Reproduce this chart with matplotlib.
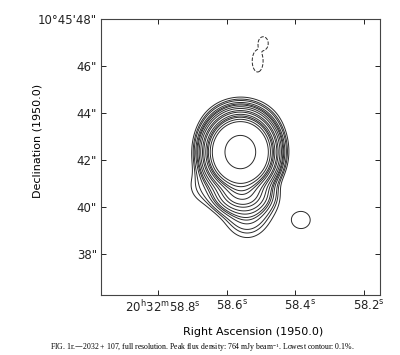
import numpy as np
import matplotlib
matplotlib.use("Agg")
import matplotlib.pyplot as plt
from matplotlib.transforms import ScaledTranslation

plt.rcParams["mathtext.default"] = "regular"

# Source model: RA in seconds (20h32m), Dec in arcsec (10d45')
comp_ra = [58.560, 58.556, 58.540, 58.670, 58.556, 58.383, 58.4934, 58.5095]
comp_dec = [42.34, 40.54, 40.14, 40.90, 43.60, 39.45, 46.957, 46.213]
comp_amp = [100.0, 2.5, 0.5, 0.15, 0.25, 0.13, -0.5, -0.5]   # percent of peak
comp_sx = [0.56, 0.60, 0.62, 0.50, 0.90, 0.54, 0.12, 0.13]     # arcsec
comp_sy = [0.60, 0.40, 0.80, 0.55, 0.60, 0.50, 0.16, 0.26]

# Contour levels (percent of peak, 764 mJy/beam)
levels = [-0.1, 0.1, 0.15, 0.2, 0.3, 0.4, 0.5, 0.7, 1, 1.5, 2, 3, 4, 5, 7, 10, 50]

ra_ticks = [58.8, 58.6, 58.4, 58.2]
ra_labels = [r"20$^{h}$32$^{m}$58.8$^{s}$", r"58.6$^{s}$", r"58.4$^{s}$", r"58.2$^{s}$"]
dec_ticks = [38, 40, 42, 44, 46, 48]
dec_labels = ['38"', '40"', '42"', '44"', '46"', "10\u00b045'48\""]

caption = ("FIG. 1r.\u20142032 + 107, full resolution. Peak flux density: 764 mJy beam$^{-1}$. "
           "Lowest contour: 0.1%.")

# Build the map
ra_lim = (58.966, 58.153)
dec_lim = (36.26, 48.0)
sec_to_arcsec = 15 * np.cos(np.radians(10.76))
ra = np.linspace(ra_lim[1], ra_lim[0], 600)
dec = np.linspace(dec_lim[0], dec_lim[1], 600)
RA, DEC = np.meshgrid(ra, dec)
flux = np.zeros_like(RA)
for r0, d0, a, sx, sy in zip(comp_ra, comp_dec, comp_amp, comp_sx, comp_sy):
    dx = (RA - r0) * sec_to_arcsec
    dy = DEC - d0
    flux += a * np.exp(-0.5 * ((dx / sx) ** 2 + (dy / sy) ** 2))

fig = plt.figure(figsize=(4.0, 3.55), dpi=100)
ax = fig.add_axes([0.2525, 0.169, 0.6975, 0.7775])

ax.contour(RA, DEC, flux, levels=levels, colors="#2a2a2a", linewidths=0.7)

ax.set_xlim(ra_lim)
ax.set_ylim(dec_lim)
ax.set_xticks(ra_ticks)
ax.set_xticklabels(ra_labels, fontsize=8.5)
ax.set_yticks(dec_ticks)
ax.set_yticklabels(dec_labels, fontsize=8.5)
ax.tick_params(direction="in", length=3.5, width=0.7, top=True, right=True, pad=3,
               colors="#222222")
for spine in ax.spines.values():
    spine.set_linewidth(0.8)
    spine.set_color("#444444")

# nudge x tick labels like the plotter output
for lab in ax.get_xticklabels():
    lab.set_transform(lab.get_transform() + ScaledTranslation(5 / 100, 0, fig.dpi_scale_trans))

ax.set_xlabel("Right Ascension (1950.0)", fontsize=8)
ax.xaxis.set_label_coords(0.545, -0.115)
ax.set_ylabel("Declination (1950.0)", fontsize=8)
ax.yaxis.set_label_coords(-0.211, 0.56)

fig.text(0.505, 0.02, caption, ha="center", va="center", fontsize=5.6,
         family="Liberation Serif")

fig.savefig("out.png", dpi=100)
